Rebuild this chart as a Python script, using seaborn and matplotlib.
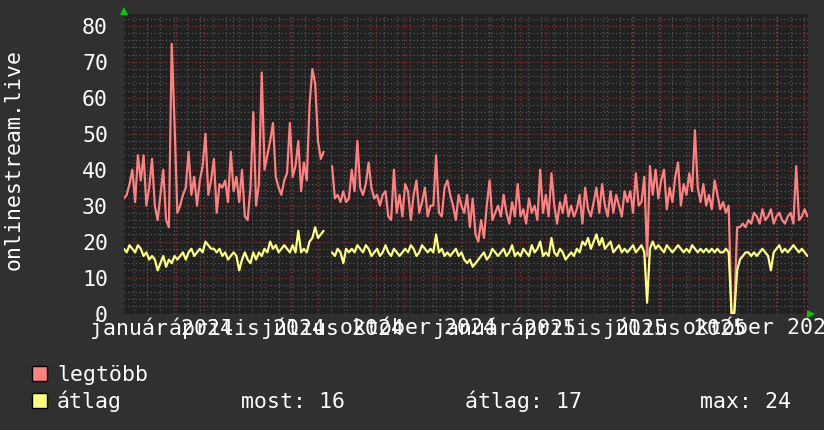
import numpy as np
import pandas as pd
import matplotlib
matplotlib.use("Agg")
import matplotlib.pyplot as plt
import seaborn as sns
from matplotlib.patches import Rectangle

# ---------------- data ----------------
start_date = "2023-12-07"
step_days = 3
nan = np.nan

legtobb = [
    32, 33, 36, 40, 31, 44, 37, 44, 30, 35,
    43, 30, 26, 33, 40, 26, 24, 75, 53, 28,
    30, 33, 35, 45, 33, 38, 30, 37, 41, 50,
    33, 37, 43, 28, 36, 35, 37, 31, 45, 34,
    38, 31, 40, 27, 26, 35, 56, 30, 36, 67,
    40, 44, 48, 53, 38, 35, 33, 37, 39, 53,
    38, 41, 48, 34, 42, 37, 58, 68, 64, 48,
    43, 45, nan, nan, 41, 32, 33, 31, 34, 31,
    32, 40, 34, 48, 35, 33, 36, 42, 35, 32,
    33, 30, 33, 34, 27, 26, 40, 28, 33, 27,
    36, 34, 26, 33, 37, 28, 31, 35, 27, 30,
    30, 44, 28, 27, 35, 37, 33, 30, 26, 33,
    30, 28, 33, 24, 32, 22, 20, 26, 21, 30,
    37, 26, 28, 30, 27, 33, 28, 25, 31, 27,
    36, 27, 29, 25, 32, 28, 30, 26, 40, 28,
    33, 27, 39, 30, 25, 31, 28, 33, 27, 30,
    27, 29, 33, 25, 35, 29, 27, 31, 35, 28,
    36, 30, 27, 34, 28, 33, 30, 27, 34, 31,
    34, 28, 39, 30, 31, 38, 16, 41, 33, 40,
    32, 37, 40, 29, 35, 31, 38, 42, 30, 36,
    33, 39, 34, 51, 35, 31, 36, 30, 33, 29,
    37, 33, 29, 31, 28, 30, 0, 1, 24, 24,
    25, 24, 26, 25, 28, 27, 25, 29, 26, 27,
    29, 25, 27, 28, 26, 25, 27, 28, 25, 41,
    26, 27, 29, 27,
]

atlag = [
    18, 17, 19, 18, 17, 19, 18, 16, 17, 15,
    16, 15, 12, 14, 16, 13, 15, 14, 16, 15,
    16, 17, 15, 17, 18, 16, 17, 18, 17, 20,
    19, 18, 18, 17, 18, 16, 17, 15, 16, 17,
    16, 12, 15, 17, 15, 14, 17, 15, 17, 16,
    18, 17, 20, 18, 19, 17, 18, 19, 18, 17,
    19, 17, 23, 17, 18, 17, 20, 21, 24, 21,
    22, 23, nan, nan, 17, 16, 18, 17, 14, 18,
    17, 18, 17, 19, 18, 17, 19, 18, 16, 17,
    18, 16, 17, 19, 17, 16, 18, 17, 16, 17,
    18, 17, 19, 18, 16, 17, 19, 18, 17, 18,
    17, 22, 17, 18, 16, 17, 16, 17, 18, 16,
    17, 15, 14, 15, 13, 14, 15, 16, 17, 15,
    16, 18, 17, 16, 17, 18, 16, 17, 19, 16,
    17, 16, 18, 17, 16, 19, 17, 18, 20, 16,
    17, 16, 21, 17, 16, 18, 17, 15, 16, 17,
    16, 18, 17, 20, 19, 21, 18, 20, 22, 19,
    21, 18, 19, 20, 17, 18, 19, 17, 18, 17,
    18, 19, 17, 18, 19, 17, 3, 18, 20, 18,
    19, 18, 17, 19, 18, 17, 18, 19, 18, 17,
    18, 17, 19, 18, 17, 18, 17, 18, 17, 18,
    17, 18, 17, 17, 18, 17, 0, 0, 12, 15,
    16, 17, 17, 16, 17, 16, 17, 18, 17, 16,
    12, 17, 18, 19, 17, 18, 17, 18, 19, 18,
    17, 18, 17, 16,
]

series_names = ["legtöbb", "átlag"]
series_colors = ["#ff8080", "#ffff80"]
y_title = "onlinestream.live"
y_ticks = [0, 10, 20, 30, 40, 50, 60, 70, 80]
month_names = {1: "január", 4: "április", 7: "július", 10: "október"}
label_months = pd.date_range("2024-01-01", "2025-10-01", freq="3MS")
x_start = pd.Timestamp("2023-12-07 03:00")
x_end = pd.Timestamp("2025-12-05 14:00")
y_max = 83.3

# ---------------- style ----------------
BG = "#303030"
PLOT_BG = "#212121"
MINOR = "#575757"
MAJOR = "#8a3434"
TXT = "#ffffff"

sns.set_theme(style="dark")
plt.rcParams["font.family"] = ["DejaVu Sans Mono", "DejaVu Sans"]
FS = 15.5

W, H = 824, 430
fig = plt.figure(figsize=(W / 100, H / 100), dpi=100, facecolor=BG)
L, R, T, B = 124, 808, 14, 313.5
ax = fig.add_axes([L / W, 1 - B / H, (R - L) / W, (B - T) / H])
ax.set_facecolor(PLOT_BG)
for s in ax.spines.values():
    s.set_visible(False)

# ---------------- data frame ----------------
dates = pd.date_range(start_date, periods=len(legtobb), freq=f"{step_days}D")
df = pd.DataFrame({"date": dates, series_names[0]: legtobb, series_names[1]: atlag})
df["seg"] = df[series_names[0]].isna().cumsum()
long = df.melt(id_vars=["date", "seg"], var_name="series", value_name="value").dropna()

# ---------------- grid ----------------
for d in pd.date_range("2023-12-18", x_end, freq="14D"):
    ax.axvline(d, color=MINOR, lw=0.9, ls=(0, (1, 2)), zorder=0.5)
for v in np.arange(2, y_max, 2):
    if v % 10:
        ax.axhline(v, color=MINOR, lw=0.9, ls=(0, (1, 2)), zorder=0.5)
for d in pd.date_range("2024-01-01", x_end, freq="MS"):
    ax.axvline(d, color=MAJOR, lw=0.9, ls=(0, (1, 2)), zorder=0.6)
for v in y_ticks:
    ax.axhline(v, color=MAJOR, lw=0.9, ls=(0, (1, 2)), zorder=0.6)

# ---------------- lines ----------------
sns.lineplot(
    data=long, x="date", y="value", hue="series", hue_order=series_names,
    palette=dict(zip(series_names, series_colors)), units="seg",
    estimator=None, linewidth=1.6, legend=False, ax=ax, zorder=3,
)

ax.set_xlim(x_start, x_end)
ax.set_ylim(0, y_max)
ax.set_xlabel("")
ax.set_ylabel("")

ax.set_yticks(y_ticks)
ax.set_yticklabels([str(v) for v in y_ticks])
label_pos = label_months + pd.Timedelta(days=15)
ax.set_xticks(label_pos)
ax.set_xticklabels([f"{month_names[d.month]} {d.year}" for d in label_months])
ax.tick_params(axis="y", length=2, color=MINOR, labelcolor=TXT, labelsize=FS, pad=9.5)
ax.tick_params(axis="x", length=0, labelcolor=TXT, labelsize=FS, pad=3)

# axis arrows
ax.plot([0], [1.01], marker="^", color="#00cc00", markersize=6, transform=ax.transAxes,
        clip_on=False, zorder=5, markeredgewidth=0)
ax.plot([1.005], [0], marker=">", color="#00cc00", markersize=6, transform=ax.transAxes,
        clip_on=False, zorder=5, markeredgewidth=0)

# y title
fig.text(14 / W, 1 - 160 / H, y_title, rotation=90, ha="center", va="center",
         color=TXT, fontsize=FS)

# ---------------- legend ----------------
av = np.array(atlag, dtype=float)
last_val = av[~np.isnan(av)][-1]
stats = [("most", last_val), ("átlag", np.nanmean(av)), ("max", np.nanmax(av))]

rows_y = [381, 408]
for name, col, yb in zip(series_names, series_colors, rows_y):
    fig.add_artist(Rectangle((32 / W, 1 - yb / H), 15 / W, 15.5 / H,
                             transform=fig.transFigure, facecolor=col,
                             edgecolor="#000000", lw=1.0))
    fig.text(57 / W, 1 - yb / H, name, ha="left", va="baseline", color=TXT, fontsize=FS)

for (lab, val), x in zip(stats, [241, 465, 700]):
    fig.text(x / W, 1 - rows_y[1] / H, f"{lab}: {val:.0f}", ha="left", va="baseline",
             color=TXT, fontsize=FS)

fig.savefig("out.png", dpi=100, facecolor=BG)
